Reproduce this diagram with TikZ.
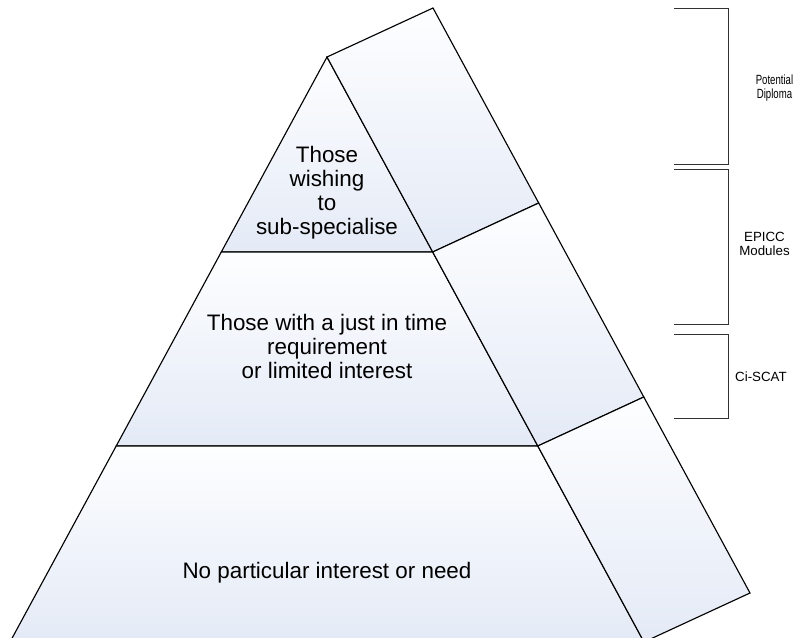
\documentclass[tikz,border=0pt]{standalone}
\usepackage{fontspec}
\setmainfont{Liberation Sans}
\definecolor{facetop}{RGB}{253,254,255}
\definecolor{facebot}{RGB}{228,234,246}
\definecolor{brk}{RGB}{50,50,50}
\begin{document}
\begin{tikzpicture}[x=0.75pt,y=-0.75pt,
  face/.style={draw=black,line width=0.85pt,line join=miter,top color=facetop,bottom color=facebot},
  bigtext/.style={align=center,anchor=base,inner sep=0pt,font=\fontsize{16.8}{18.2}\selectfont},
  smalltext/.style={align=center,anchor=base,inner sep=0pt,font=\fontsize{10}{11.2}\selectfont},
  bracket/.style={draw=brk,line width=0.65pt}]
\useasboundingbox (0,0) rectangle (794,638);
\begin{scope}
\clip (0,0) rectangle (794,638);
% key points
\coordinate (A) at (327,57);
\coordinate (B) at (433,8);
\coordinate (L1) at (221.3,252);
\coordinate (R1) at (432.7,252);
\coordinate (S1) at (538.7,203);
\coordinate (L2) at (116.2,446);
\coordinate (R2) at (537.8,446);
\coordinate (S2) at (643.8,397);
\coordinate (L3) at (10,642);
\coordinate (R3) at (644,642);
\coordinate (S3) at (750,593);
% front faces
\path[face] (A) -- (R1) -- (L1) -- cycle;
\path[face] (L1) -- (R1) -- (R2) -- (L2) -- cycle;
\path[face] (L2) -- (R2) -- (R3) -- (L3) -- cycle;
% side faces
\path[face] (A) -- (B) -- (S1) -- (R1) -- cycle;
\path[face] (R1) -- (S1) -- (S2) -- (R2) -- cycle;
\path[face] (R2) -- (S2) -- (S3) -- (R3) -- cycle;
\end{scope}
% labels (base = baseline of last line)
\node[bigtext] (t1) at (327,235) {Those\\wishing\\to\\sub-specialise};
\node[bigtext] (t2) at (327,379) {Those with a just in time\\requirement\\or limited interest};
\node[bigtext] (t3) at (327,579) {No particular interest or need};
% brackets
\coordinate (b1a) at (674,8);   \coordinate (b1b) at (728,8);
\coordinate (b1c) at (728,164); \coordinate (b1d) at (674,164);
\coordinate (b2a) at (674,169); \coordinate (b2b) at (728,169);
\coordinate (b2c) at (728,324); \coordinate (b2d) at (674,324);
\coordinate (b3a) at (674,334); \coordinate (b3b) at (728,334);
\coordinate (b3c) at (728,418); \coordinate (b3d) at (674,418);
\draw[bracket] (b1a) -- (b1b) -- (b1c) -- (b1d);
\draw[bracket] (b2a) -- (b2b) -- (b2c) -- (b2d);
\draw[bracket] (b3a) -- (b3b) -- (b3c) -- (b3d);
\node[smalltext] (p1) at (774.5,99) {\scalebox{0.72}[1]{Potential}\\\scalebox{0.72}[1]{Diploma}};
\node[smalltext] (p2) at (764.5,256) {EPICC\\Modules};
\node[smalltext] (p3) at (761,382) {Ci-SCAT};
\end{tikzpicture}
\end{document}
